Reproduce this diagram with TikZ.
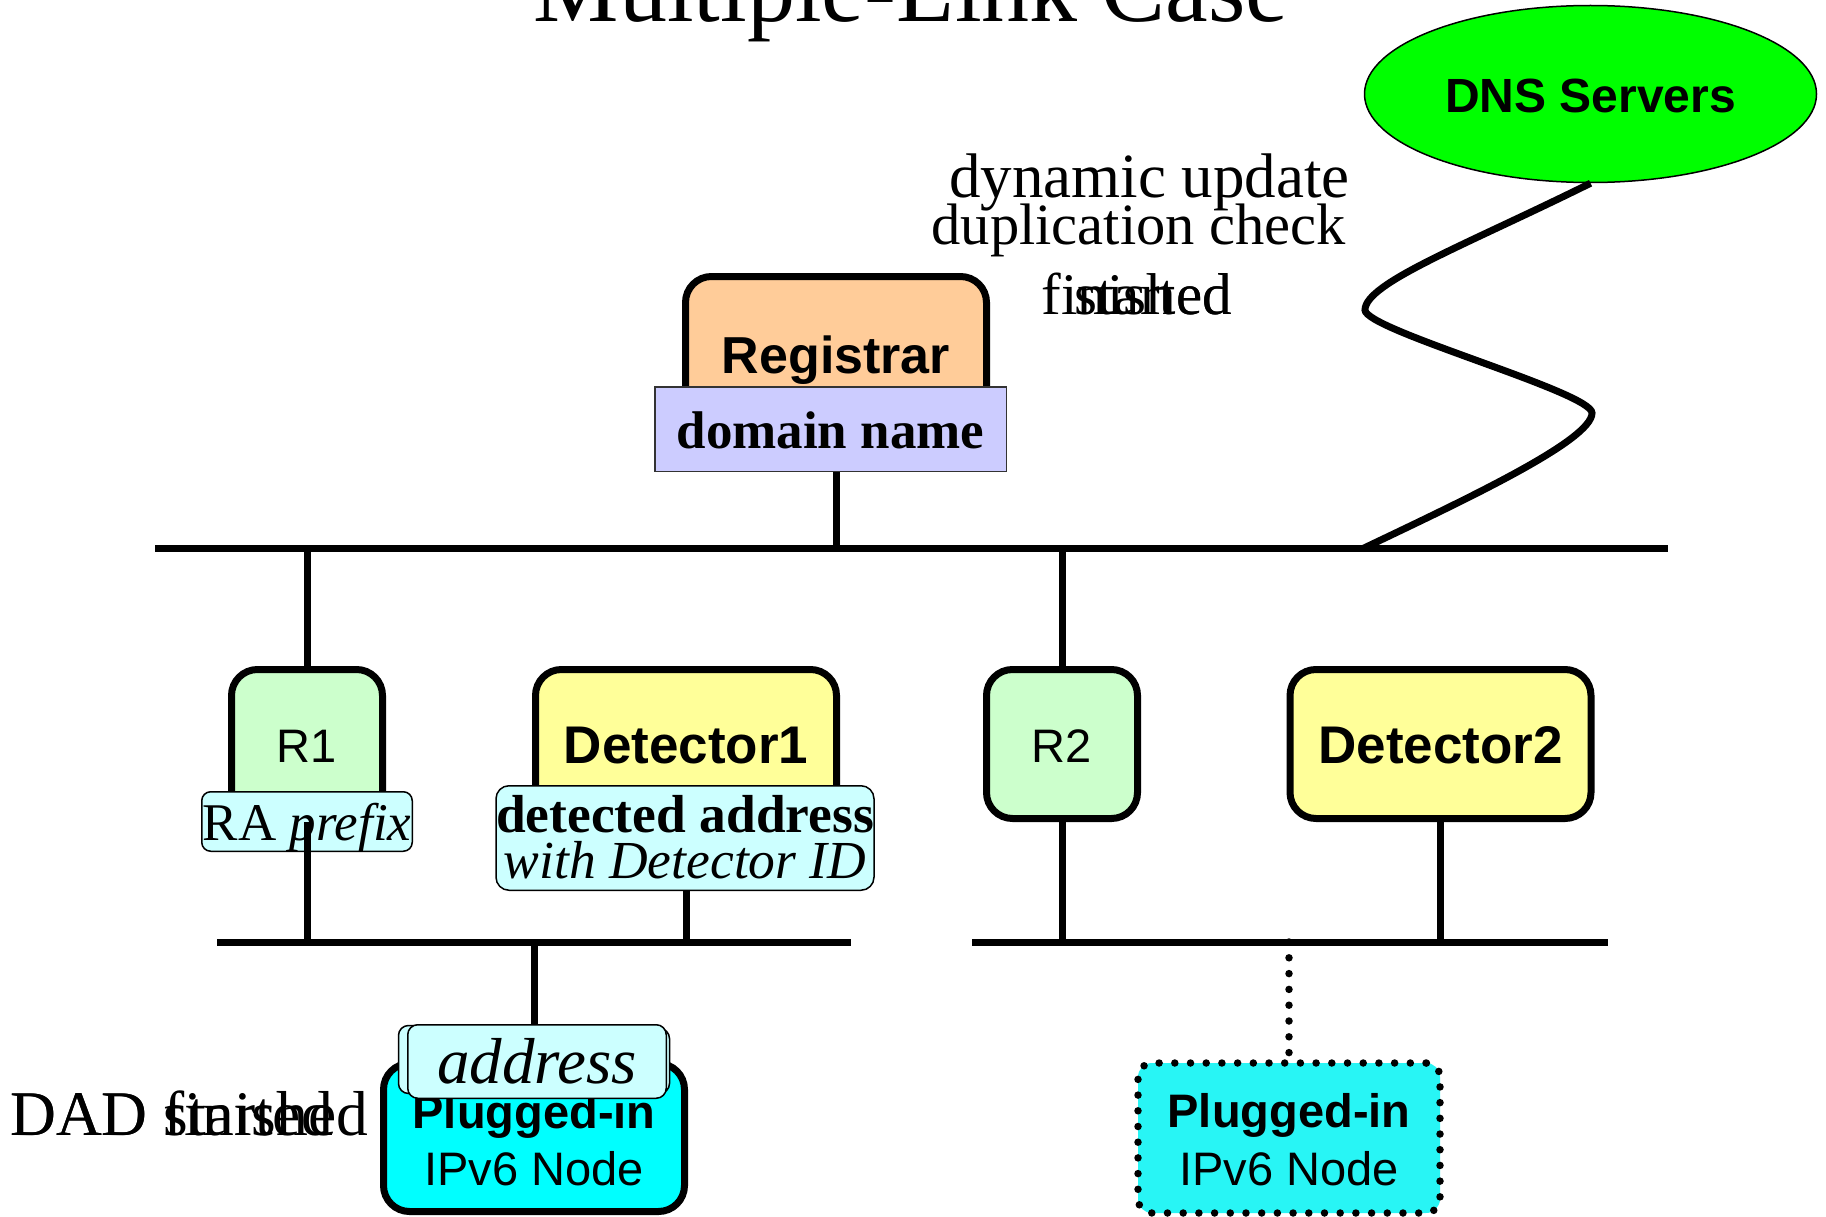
\documentclass[tikz,border=0pt]{standalone}
\usepackage{fontspec}
\setmainfont{Liberation Serif}
\setsansfont{Liberation Sans}
\usetikzlibrary{shapes.geometric}
\definecolor{peach}{RGB}{255,204,153}
\definecolor{lav}{RGB}{204,204,255}
\definecolor{mint}{RGB}{204,255,204}
\definecolor{lemon}{RGB}{255,255,153}
\definecolor{ice}{RGB}{204,255,255}
\definecolor{aqua}{RGB}{0,255,255}
\definecolor{aquasoft}{RGB}{40,245,245}
\definecolor{lime}{RGB}{0,255,0}
\newcommand\twolines[3]{\vbox{\baselineskip=#3\lineskiplimit=-\maxdimen\halign{\hfil##\hfil\cr#1\cr#2\cr}}}
\begin{document}
\begin{tikzpicture}[x=1pt,y=-1pt,
  wire/.style={line width=7pt},
  dotline/.style={line width=7.5pt, line cap=round, dash pattern=on 0pt off 15.8pt},
  bigbox/.style={draw, line width=7pt, rounded corners=26pt, inner sep=0pt, anchor=base,
    font=\sffamily\bfseries\fontsize{52}{60}\selectfont},
  rbox/.style={bigbox, fill=mint, minimum width=151pt, text height=92.5pt, text depth=56.5pt,
    font=\sffamily\fontsize{47}{55}\selectfont},
  detbox/.style={bigbox, fill=lemon, minimum width=301pt, text height=94pt, text depth=55pt,
    font=\sffamily\bfseries\fontsize{53}{60}\selectfont},
  lbl/.style={draw, line width=1.5pt, inner sep=0pt, anchor=base, fill=ice,
    font=\rmfamily\fontsize{53}{60}\selectfont},
  plfont/.style={font=\sffamily\fontsize{47}{55}\selectfont},
  txt/.style={inner sep=0pt, font=\rmfamily\fontsize{60}{70}\selectfont}
]
\useasboundingbox (0,0) rectangle (1826,1217);
\fill[white] (0,0) rectangle (1826,1217);
\clip (0,0) rectangle (1826,1217);

% bus lines
\coordinate (b1w) at (155,548.5);
\coordinate (b1e) at (1668,548.5);
\coordinate (b2lw) at (217,942);
\coordinate (b2le) at (851,942);
\coordinate (b2rw) at (972,942);
\coordinate (b2re) at (1608,942);
\coordinate (wv) at (1363,548.5);
\draw[wire] (b1w) -- (b1e);
\draw[wire] (b2lw) -- (b2le);
\draw[wire] (b2rw) -- (b2re);

% Registrar
\node[bigbox, fill=peach, minimum width=301pt, text height=96.5pt, text depth=52pt] (reg) at (836,373) {Registrar};
\node[lbl, fill=lav, draw=black!80, minimum width=351.5pt, text height=61.25pt, text depth=23.25pt,
  font=\rmfamily\bfseries\fontsize{53}{60}\selectfont] (dn) at (830.5,448) {domain name};
\draw[wire] (reg.south |- dn.south) -- (reg.south |- b1w);

% R1
\node[rbox] (r1) at (307,762) {R1};
\draw[wire] (r1.north) -- (r1.north |- b1w);
\node[lbl, rounded corners=9pt, minimum width=210.5pt, text height=48.25pt, text depth=11.25pt] (ra) at (307,840) {RA \textit{prefix}};
\draw[wire] (r1.south) -- (r1.south |- b2lw);

% Detector1
\node[detbox] (d1) at (686,763.5) {Detector1};
\node[lbl, rounded corners=13pt, minimum width=378pt, text height=92.25pt, text depth=12.25pt,
  font=\rmfamily\fontsize{53.5}{60}\selectfont] (d1lab) at (685,878)
  {\twolines{\bfseries detected address}{\itshape with Detector ID}{46pt}};
\draw[wire] (d1.south |- d1lab.south) -- (d1.south |- b2lw);

% R2 and Detector2
\node[rbox] (r2) at (1062,762) {R2};
\draw[wire] (r2.north) -- (r2.north |- b1w);
\draw[wire] (r2.south) -- (r2.south |- b2rw);
\node[detbox] (d2) at (1440.5,763.5) {Detector2};
\draw[wire] (d2.south) -- (d2.south |- b2rw);

% Plugged-in node (left)
\node[bigbox, fill=aqua, plfont, minimum width=301pt, text height=121.5pt, text depth=26.5pt] (pl1) at (534,1185)
  {\twolines{\bfseries Plugged-in}{IPv6 Node}{57pt}};
\draw[wire] (pl1.north) -- (pl1.north |- b2lw);
\node[lbl, anchor=center, rounded corners=10pt, minimum width=259pt, minimum height=68pt] (addrb1) at (528,1059.5) {};
\node[lbl, anchor=center, rounded corners=10pt, minimum width=259pt, minimum height=65pt] (addrb2) at (540,1061) {};
\node[lbl, rounded corners=10pt, minimum width=258.5pt, text height=58.25pt, text depth=15.25pt,
  font=\rmfamily\itshape\fontsize{65}{70}\selectfont] (addr) at (537,1083) {address};

% Plugged-in node (right, dotted)
\node[draw, line width=7.5pt, line cap=round, dash pattern=on 0pt off 15.7pt, rounded corners=14pt,
  fill=aquasoft, inner sep=0pt, anchor=base, plfont, minimum width=302pt, text height=122pt, text depth=28pt] (pl2) at (1289,1185)
  {\twolines{\bfseries Plugged-in}{IPv6 Node}{57.5pt}};
\draw[dotline] (pl2.north |- b2rw) -- (pl2.north);

% DNS servers
\node[ellipse, draw, line width=1.5pt, fill=lime, minimum width=452pt, minimum height=177pt, inner sep=0pt,
  text height=40pt, text depth=2pt, font=\sffamily\bfseries\fontsize{48}{56}\selectfont] (dns) at (1590.5,94) {DNS Servers};
\draw[wire] (dns.south) .. controls (1466,245) and (1365,283) .. (1365,310)
  .. controls (1365,330) and (1592,392) .. (1592,413)
  .. controls (1592,440) and (1470,497.5) .. (wv);

% texts
\node[txt, anchor=base, font=\rmfamily\fontsize{96}{100}\selectfont] (title) at (911,22) {Multiple-Link Case};
\node[txt, anchor=base east, font=\rmfamily\fontsize{63}{70}\selectfont] (dyn) at (1350,198) {dynamic update};
\node[txt, anchor=base east, font=\rmfamily\fontsize{58.5}{70}\selectfont] (dup) at (1346,244) {duplication check};
\node[txt, anchor=base east, font=\rmfamily\fontsize{59}{70}\selectfont] (fin) at (1232,314) {finished};
\node[txt, anchor=base east, font=\rmfamily\fontsize{59}{70}\selectfont] (sta) at (1232,314) {started};
\node[txt, anchor=base west, font=\rmfamily\fontsize{63.5}{70}\selectfont] (dadf) at (10,1135) {DAD finished};
\node[txt, anchor=base west, font=\rmfamily\fontsize{63.5}{70}\selectfont] (dads) at (10,1135) {DAD started};
\end{tikzpicture}
\end{document}
